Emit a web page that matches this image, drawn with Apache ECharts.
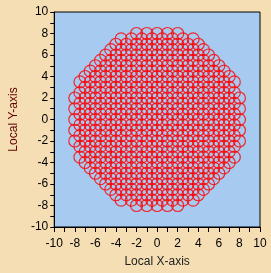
<!DOCTYPE html>
<html>
<head>
<meta charset="utf-8">
<script src="https://cdn.jsdelivr.net/npm/echarts@6/dist/echarts.min.js"></script>
<style>
html, body { margin: 0; padding: 0; background: #f5deb3; }
#chart { width: 271px; height: 273px; }
</style>
</head>
<body>
<div id="chart"></div>
<script>
// circle centres on whole-number points: row y and how far the row reaches left/right
var intRowY = [8, 7, 6, 5, 4, 3, 2, 1, 0, -1, -2, -3, -4, -5, -6, -7, -8];
var intRowHalfWidth = [2, 4, 5, 6, 7, 7, 8, 8, 8, 8, 8, 7, 7, 6, 5, 4, 2];
// circle centres on the half points in between
var halfRowY = [7.5, 6.5, 5.5, 4.5, 3.5, 2.5, 1.5, 0.5, -0.5, -1.5, -2.5, -3.5, -4.5, -5.5, -6.5, -7.5];
var halfRowHalfWidth = [3.5, 4.5, 5.5, 6.5, 7.5, 7.5, 7.5, 7.5, 7.5, 7.5, 7.5, 7.5, 6.5, 5.5, 4.5, 3.5];
var axisTicks = [-10, -8, -6, -4, -2, 0, 2, 4, 6, 8, 10];

// 每一行按步长1展开成圆心
function rowsToPoints(rowY, rowHalf) {
    var pts = [];
    for (var i = 0; i < rowY.length; i++) {
        for (var x = -rowHalf[i]; x <= rowHalf[i]; x += 1) {
            pts.push([x, rowY[i]]);
        }
    }
    return pts;
}

var font = 'Liberation Sans, Arial, sans-serif';
var myChart = echarts.init(document.getElementById('chart'));

function tickLabel(v) {
    return axisTicks.indexOf(v) >= 0 ? String(v) : '';
}

var circleStyle = {
    color: 'transparent',
    borderColor: '#ff0000',
    borderWidth: 1.2
};

var option = {
    backgroundColor: '#f5deb3',
    animation: false,
    grid: {
        left: 41,
        right: 11,
        top: 12,
        bottom: 43,
        show: true,
        backgroundColor: '#a6caf0',
        borderColor: '#000',
        borderWidth: 1
    },
    xAxis: {
        type: 'value',
        min: -10,
        max: 10,
        interval: 1,
        name: 'Local X-axis',
        nameLocation: 'middle',
        nameGap: 29,
        nameTextStyle: { color: '#222', fontSize: 12, fontFamily: font },
        axisLine: { show: true, onZero: false, lineStyle: { color: '#000', width: 1 } },
        axisTick: { show: true, length: 5, lineStyle: { color: '#000' } },
        axisLabel: { color: '#000', fontSize: 12, fontFamily: font, margin: 11, formatter: tickLabel },
        splitLine: { show: false }
    },
    yAxis: {
        type: 'value',
        min: -10,
        max: 10,
        interval: 1,
        name: 'Local Y-axis',
        nameLocation: 'middle',
        nameGap: 29,
        nameTextStyle: { color: '#600000', fontSize: 12, fontFamily: font },
        axisLine: { show: true, onZero: false, lineStyle: { color: '#000', width: 1 } },
        axisTick: { show: true, length: 4, lineStyle: { color: '#000' } },
        axisLabel: { color: '#000', fontSize: 12, fontFamily: font, margin: 6, formatter: tickLabel },
        splitLine: { show: false }
    },
    series: [
        {
            type: 'scatter',
            symbol: 'circle',
            symbolSize: 12,
            data: rowsToPoints(intRowY, intRowHalfWidth),
            itemStyle: circleStyle,
            emphasis: { disabled: true }
        },
        {
            type: 'scatter',
            symbol: 'circle',
            symbolSize: 12,
            data: rowsToPoints(halfRowY, halfRowHalfWidth),
            itemStyle: circleStyle,
            emphasis: { disabled: true }
        }
    ]
};

myChart.setOption(option);
</script>
</body>
</html>
